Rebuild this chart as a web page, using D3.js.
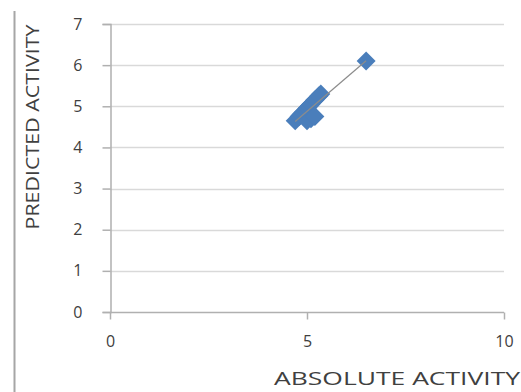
<!DOCTYPE html>
<html>
<head>
<meta charset="utf-8">
<script src="https://cdn.jsdelivr.net/npm/d3@7"></script>
<style>
  body { margin: 0; background: #fff; }
  svg text { font-family: "Open Sans", "DejaVu Sans", sans-serif; fill: #404040; }
</style>
</head>
<body>
<svg id="chart" width="521" height="392"></svg>
<script>
// absolute vs predicted activity
var absolute_activity  = [4.7, 4.8, 4.85, 4.9, 5.0, 5.05, 5.1, 5.2, 5.3, 5.35, 5.0, 5.1, 5.2, 6.5];
var predicted_activity = [4.65, 4.75, 4.8, 4.85, 4.95, 5.0, 5.05, 5.15, 5.25, 5.3, 4.65, 4.7, 4.75, 6.1];
var x_ticks = [0, 5, 10];
var y_ticks = [0, 1, 2, 3, 4, 5, 6, 7];

var svg = d3.select("#chart");

var x = d3.scaleLinear().domain([0, 10]).range([110, 504]);
var y = d3.scaleLinear().domain([0, 7]).range([312, 24]);

// frame line on the left edge of the picture
svg.append("line")
    .attr("x1", 14.5).attr("x2", 14.5)
    .attr("y1", 11).attr("y2", 392)
    .attr("stroke", "#a6a6a6").attr("stroke-width", 2);

// horizontal gridlines
svg.append("g")
    .selectAll("line")
    .data(y_ticks.slice(1))
    .enter().append("line")
    .attr("x1", x(0)).attr("x2", x(10))
    .attr("y1", function(d) { return Math.round(y(d)) + 0.5; })
    .attr("y2", function(d) { return Math.round(y(d)) + 0.5; })
    .attr("stroke", "#d9d9d9").attr("stroke-width", 1.5);

// y axis
var y_axis = svg.append("g")
    .attr("transform", "translate(" + (x(0) + 0.5) + ",0)")
    .call(d3.axisLeft(y).tickValues(y_ticks).tickSize(8).tickPadding(20)
        .tickFormat(d3.format("d")));

// x axis
var x_axis = svg.append("g")
    .attr("transform", "translate(0," + (y(0) + 0.5) + ")")
    .call(d3.axisBottom(x).tickValues(x_ticks).tickSize(7).tickPadding(16)
        .tickFormat(d3.format("d")));

[y_axis, x_axis].forEach(function (ax) {
    ax.select(".domain").attr("stroke", "#b0b0b0").attr("stroke-width", 1.5);
    ax.selectAll(".tick line").attr("stroke", "#b0b0b0").attr("stroke-width", 1.5);
    ax.selectAll(".tick text")
        .style("font-family", "'Open Sans', sans-serif")
        .style("font-size", "16px")
        .attr("fill", "#404040");
});
x_axis.select(".domain").attr("d", "M" + x(0) + ",0H" + x(10));

// linear trendline through the points
var n = absolute_activity.length;
var mx = d3.mean(absolute_activity), my = d3.mean(predicted_activity);
var sxy = 0, sxx = 0;
for (var i = 0; i < n; i++) {
    sxy += (absolute_activity[i] - mx) * (predicted_activity[i] - my);
    sxx += (absolute_activity[i] - mx) * (absolute_activity[i] - mx);
}
var slope = sxy / sxx, intercept = my - slope * mx;
var x_min = d3.min(absolute_activity), x_max = d3.max(absolute_activity);

// diamonds
var diamond = d3.symbol().type(d3.symbolDiamond2).size(230);
svg.append("g")
    .selectAll("path")
    .data(absolute_activity)
    .enter().append("path")
    .attr("d", diamond)
    .attr("transform", function(d, i) {
        return "translate(" + x(d) + "," + y(predicted_activity[i]) + ")";
    })
    .attr("fill", "#4a7ebb");

svg.append("line")
    .attr("x1", x(x_min)).attr("y1", y(slope * x_min + intercept))
    .attr("x2", x(x_max)).attr("y2", y(slope * x_max + intercept))
    .attr("stroke", "#8c8c8c").attr("stroke-width", 1.2);

// axis titles
svg.append("text")
    .attr("transform", "translate(39,127) rotate(-90)")
    .attr("text-anchor", "middle")
    .style("font-size", "18px")
    .attr("textLength", 205)
    .attr("lengthAdjust", "spacingAndGlyphs")
    .text("PREDICTED ACTIVITY");

svg.append("text")
    .attr("x", 397).attr("y", 385)
    .attr("text-anchor", "middle")
    .style("font-size", "18px")
    .attr("textLength", 246)
    .attr("lengthAdjust", "spacingAndGlyphs")
    .text("ABSOLUTE ACTIVITY");
</script>
</body>
</html>
